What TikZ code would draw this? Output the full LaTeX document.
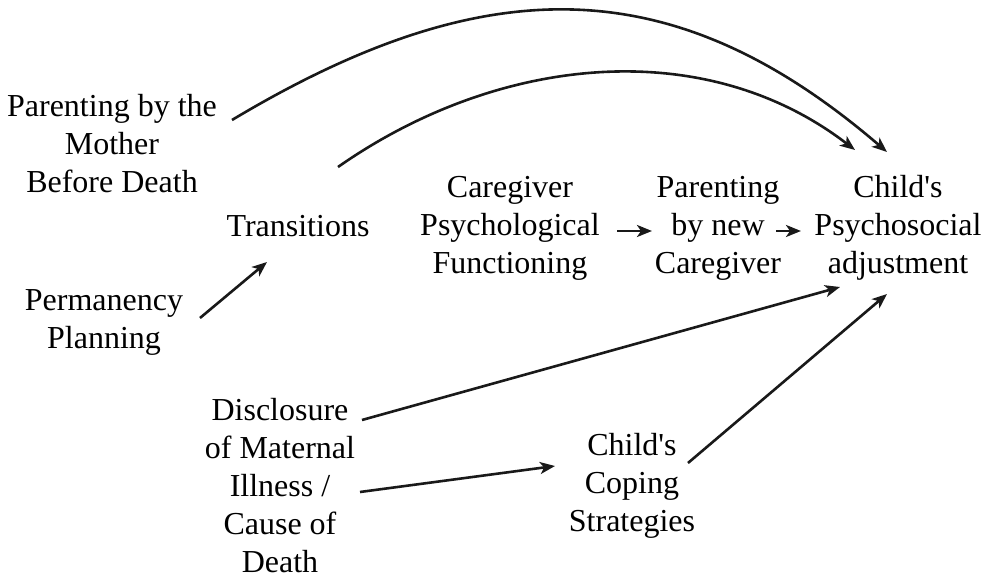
\documentclass[tikz,border=0pt]{standalone}
\usepackage{fontspec}
\setmainfont{Liberation Serif}
\usetikzlibrary{arrows.meta, positioning, calc}
\tikzset{
  factor/.style={align=center, inner sep=2pt, font=\fontsize{32}{38}\selectfont},
  arrow/.style={-{Stealth[length=15pt, width=12pt, inset=4pt]}, line width=2.6pt, black!90}
}
\begin{document}
\begin{tikzpicture}[x=1pt, y=-1pt]
  \useasboundingbox (0,0) rectangle (986,580);

  % --- Factors ---
  \node[factor] (mother) at (112,144) {Parenting by the\\Mother\\Before Death};
  \node[factor] (trans) at (298,226) {Transitions};
  \node[factor] (perm) at (104,322) {Permanency\\Planning};
  \node[factor] (care) at (510,228) {Caregiver\\Psychological\\Functioning};
  \node[factor] (parent) at (718,228) {Parenting\\by new\\Caregiver};
  \node[factor] (child) at (898,228) {Child\textquotesingle s\\Psychosocial\\adjustment};
  \node[factor] (discl) at (280,486) {Disclosure\\of Maternal\\Illness /\\Cause of\\Death};
  \node[factor] (coping) at (632,486) {Child\textquotesingle s\\Coping\\Strategies};

  % --- Connections ---
  \draw[arrow] ($(mother)+(120,-24)$) .. controls (486,-32) and (674,-31) .. ($(child)+(-11,-76)$);
  \draw[arrow] ($(trans)+(40,-59)$) .. controls (498,55) and (704,34) .. ($(child)+(-43,-78)$);
  \draw[arrow] ($(perm)+(96,-4)$) -- ($(trans)+(-31,36)$);
  \draw[arrow] ($(care)+(107,3)$) -- ($(parent)+(-66,3)$);
  \draw[arrow] ($(parent)+(58,3)$) -- ($(child)+(-97,3)$);
  \draw[arrow] ($(discl)+(82,-66)$) -- ($(child)+(-58,59)$);
  \draw[arrow] ($(discl)+(80,6)$) -- ($(coping)+(-77,-20)$);
  \draw[arrow] ($(coping)+(56,-23)$) -- ($(child)+(-11,66)$);
\end{tikzpicture}
\end{document}
